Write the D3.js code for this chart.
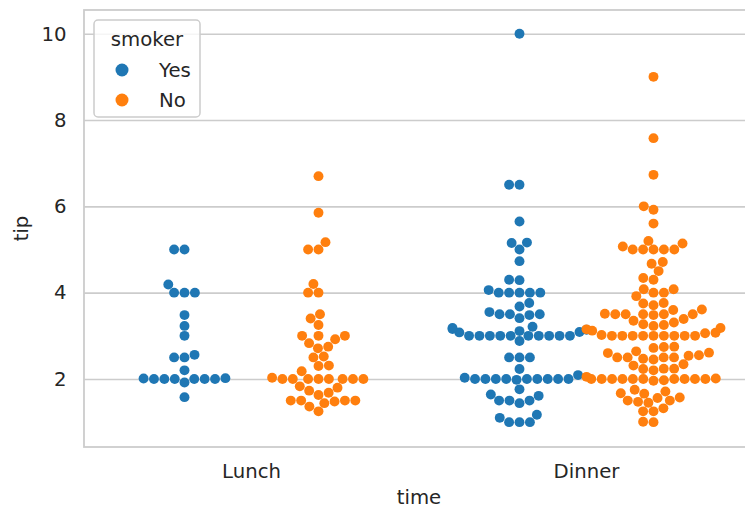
<!DOCTYPE html>
<html>
<head>
<meta charset="utf-8">
<script src="https://cdn.jsdelivr.net/npm/d3@7"></script>
<style>
  html, body { margin: 0; padding: 0; background: #ffffff; }
  svg { display: block; }
  text { font-family: "DejaVu Sans", sans-serif; }
</style>
</head>
<body>
<svg id="chart" width="745" height="509"></svg>
<script>
// ---- data (seaborn "tips": tip by time, split by smoker) ----
const categories = ["Lunch", "Dinner"];
const smokers = ["Yes", "No"];
const yTicks = [2, 4, 6, 8, 10];

const lunchYes = [3.0, 5.0, 2.0, 4.19, 2.56, 2.02, 4.0, 2.0, 5.0, 2.0, 2.0, 4.0, 2.01, 2.0, 2.5, 4.0, 3.23,
  2.2, 3.48, 1.92, 1.58, 2.5, 2.0];
const lunchNo = [4.0, 3.0, 2.71, 3.4, 1.83, 2.03, 5.17, 2.0, 4.0, 5.85, 3.0,
  1.5, 1.8, 2.92, 2.31, 1.68, 2.5, 2.0, 2.52, 4.2, 1.48, 2.0, 2.0, 2.18, 1.5, 2.83, 1.5, 2.0, 3.25, 1.25,
  2.0, 2.0, 2.75, 3.5, 6.7, 5.0, 5.0, 2.3, 1.5, 1.36, 1.63, 1.73, 2.0, 1.44, 3.0];
const dinnerYes = [3.0, 1.76, 3.21, 2.0, 1.98, 3.76, 1.0, 2.09, 3.14, 5.0, 3.08,
  3.0, 1.0, 4.3, 4.73, 4.0, 1.5, 3.0, 2.5, 3.0,
  2.5, 3.48, 1.64, 4.06, 4.29, 4.0,
  3.0, 1.61, 2.0, 10.0, 3.16, 5.15, 3.18, 4.0, 3.11, 2.0, 2.0, 4.0, 3.55, 3.68, 5.65, 3.5, 6.5, 3.0,
  3.5, 2.0, 3.5, 4.0, 1.5,
  3.41, 3.0, 2.03, 2.23, 2.0, 5.16, 2.5, 6.5, 1.1, 3.0, 1.5, 1.44, 3.09,
  2.88, 2.0, 3.0, 3.0, 1.0, 1.17, 2.0, 2.0];
const dinnerNo = [1.01, 1.66, 3.5, 3.31, 3.61, 4.71, 2.0, 3.12, 1.96, 3.23, 1.71, 5.0, 1.57, 3.0, 3.02,
  3.92, 1.67, 3.71, 3.5, 3.35, 4.08, 2.75, 2.23, 7.58, 3.18, 2.34, 2.0, 2.0, 4.3, 3.0, 1.45, 2.5, 3.0,
  2.45, 3.27, 3.6, 2.0, 3.07, 2.31, 5.0, 2.24, 2.54, 3.06, 1.32, 5.6, 3.0, 5.0, 6.0, 2.05, 3.0, 2.5,
  2.6, 5.2, 1.56, 4.34, 3.51,
  1.5, 6.73, 2.64, 3.15, 2.47, 2.01, 1.97, 3.0, 2.2, 1.25,
  3.5, 3.25, 1.5, 4.08, 3.76, 3.0, 1.0, 4.0, 2.55, 4.0, 3.5, 5.07,
  2.5, 2.0, 2.74, 2.0, 2.0, 5.14, 5.0, 3.75, 2.61, 2.0, 3.5, 2.5, 2.0, 2.0,
  3.48, 2.24, 4.5, 5.0,
  9.0, 3.0, 2.72, 3.39, 1.47, 1.25, 4.67, 5.92, 1.75, 3.0];

const groups = [
  { time: "Lunch", smoker: "Yes", values: lunchYes },
  { time: "Lunch", smoker: "No", values: lunchNo },
  { time: "Dinner", smoker: "Yes", values: dinnerYes },
  { time: "Dinner", smoker: "No", values: dinnerNo }
];

// ---- layout ----
const plot = { left: 84, right: 754, top: 10, bottom: 447 };
const colors = d3.scaleOrdinal().domain(smokers).range(["#1f77b4", "#ff7f0e"]);
const fontPx = 19.7;
const R = 4.95;

const svg = d3.select("#chart");

const x = d3.scaleBand().domain(categories).range([plot.left, plot.right]).padding(0);
const hue = d3.scaleBand().domain(smokers).range([-0.4, 0.4]); // fraction of band
const y = d3.scaleLinear().domain([0.4245, 10.549]).range([plot.bottom, plot.top]);

svg.append("defs").append("clipPath").attr("id", "clip")
  .append("rect").attr("x", plot.left).attr("y", plot.top)
  .attr("width", plot.right - plot.left).attr("height", plot.bottom - plot.top);

// grid lines
const gridG = svg.append("g").attr("transform", `translate(${plot.left},0)`)
  .call(d3.axisLeft(y).tickValues(yTicks).tickSize(-(plot.right - plot.left)).tickFormat(""));
gridG.select(".domain").remove();
gridG.selectAll(".tick line").attr("stroke", "#cccccc").attr("stroke-width", 1.6);

// spines
svg.append("rect").attr("x", plot.left).attr("y", plot.top)
  .attr("width", plot.right - plot.left).attr("height", plot.bottom - plot.top)
  .attr("fill", "none").attr("stroke", "#cccccc").attr("stroke-width", 1.8);

// y tick labels
const yAxis = svg.append("g").attr("transform", `translate(${plot.left},0)`)
  .call(d3.axisLeft(y).tickValues(yTicks).tickSize(0).tickPadding(17.5).tickFormat(d3.format("d")));
yAxis.select(".domain").remove();
yAxis.selectAll("text").attr("font-size", fontPx).attr("fill", "#262626")
  .attr("font-family", "DejaVu Sans");

// x tick labels
const xAxis = svg.append("g").attr("transform", `translate(0,${plot.bottom})`)
  .call(d3.axisBottom(x).tickSize(0).tickPadding(17));
xAxis.select(".domain").remove();
xAxis.selectAll("text").attr("font-size", fontPx).attr("fill", "#262626")
  .attr("font-family", "DejaVu Sans");

// axis titles
svg.append("text").attr("x", (plot.left + plot.right) / 2).attr("y", 504)
  .attr("text-anchor", "middle").attr("font-size", fontPx).attr("fill", "#262626").text("time");
svg.append("text").attr("transform", `translate(28,${(plot.top + plot.bottom) / 2}) rotate(-90)`)
  .attr("text-anchor", "middle").attr("font-size", fontPx).attr("fill", "#262626").text("tip");

// ---- numpy-style (introsort) argsort, to reproduce seaborn's tie ordering ----
function npArgsort(v) {
  const n = v.length;
  const ts = Array.from({ length: n }, (_, i) => i);
  if (n <= 1) return ts;
  const SMALL = 16;
  const swap = (a, b) => { const t = ts[a]; ts[a] = ts[b]; ts[b] = t; };
  const stack = [];
  let pl = 0, pr = n - 1;
  for (;;) {
    while (pr - pl > SMALL) {
      const pm = pl + ((pr - pl) >> 1);
      if (v[ts[pm]] < v[ts[pl]]) swap(pm, pl);
      if (v[ts[pr]] < v[ts[pm]]) swap(pr, pm);
      if (v[ts[pm]] < v[ts[pl]]) swap(pm, pl);
      const vp = v[ts[pm]];
      let pi = pl, pj = pr - 1;
      swap(pm, pj);
      for (;;) {
        do { ++pi; } while (v[ts[pi]] < vp);
        do { --pj; } while (vp < v[ts[pj]]);
        if (pi >= pj) break;
        swap(pi, pj);
      }
      swap(pi, pr - 1);
      if (pi - pl < pr - pi) { stack.push([pi + 1, pr]); pr = pi - 1; }
      else { stack.push([pl, pi - 1]); pl = pi + 1; }
    }
    for (let pi = pl + 1; pi <= pr; ++pi) {
      const vi = ts[pi], vv = v[vi];
      let pj = pi, pk = pi - 1;
      while (pj > pl && vv < v[ts[pk]]) { ts[pj--] = ts[pk--]; }
      ts[pj] = vi;
    }
    if (stack.length === 0) break;
    [pl, pr] = stack.pop();
  }
  return ts;
}

// ---- beeswarm (seaborn-style) ----
function swarm(values, center, r, halfWidth) {
  const sorter = npArgsort(values);
  const pts = sorter.map(i => ({ v: values[i], up: (y(0) - y(values[i])) }));
  const d = 2 * r;
  const placed = [];
  pts.forEach((p, k) => {
    if (k === 0) { p.x = center; placed.push(p); return; }
    const nb = [];
    for (let j = placed.length - 1; j >= 0; j--) {
      const q = placed[j];
      if (p.up - q.up < d) nb.push(q); else break;
    }
    nb.reverse();
    if (nb.length === 0) { p.x = center; placed.push(p); return; }
    const cands = [center];
    let leftFirst = true;
    nb.forEach(q => {
      const dy = p.up - q.up;
      const dx = Math.sqrt(Math.max(d * d - dy * dy, 0)) * 1.05;
      if (leftFirst) cands.push(q.x - dx, q.x + dx); else cands.push(q.x + dx, q.x - dx);
      leftFirst = !leftFirst;
    });
    const offs = cands.map(c => Math.abs(c - center));
    const ord = npArgsort(offs);
    let chosen = cands[ord[ord.length - 1]];
    for (const oi of ord) {
      const c = cands[oi];
      const ok = nb.every(q => ((q.x - c) ** 2 + (q.up - p.up) ** 2) >= d * d);
      if (ok) { chosen = c; break; }
    }
    p.x = chosen;
    placed.push(p);
  });
  pts.forEach(p => { p.x = Math.max(center - halfWidth, Math.min(center + halfWidth, p.x)); });
  return pts;
}

const pointsG = svg.append("g").attr("clip-path", "url(#clip)");
groups.forEach(g => {
  const bw = x.bandwidth();
  const center = x(g.time) + bw / 2 + (hue(g.smoker) + hue.bandwidth() / 2) * bw;
  const half = hue.bandwidth() * bw / 2;
  const pts = swarm(g.values, center, R, half);
  pointsG.selectAll(null).data(pts).enter().append("circle")
    .attr("cx", p => p.x).attr("cy", p => y(p.v)).attr("r", R)
    .attr("fill", colors(g.smoker));
});

// ---- legend ----
const lg = svg.append("g");
lg.append("rect").attr("x", 94).attr("y", 20).attr("width", 106).attr("height", 97)
  .attr("rx", 4).attr("fill", "#ffffff").attr("fill-opacity", 0.8)
  .attr("stroke", "#cccccc").attr("stroke-width", 1.5);
lg.append("text").attr("x", 147).attr("y", 46).attr("text-anchor", "middle")
  .attr("font-size", fontPx).attr("fill", "#262626").text("smoker");
smokers.forEach((s, i) => {
  const cy = 70 + i * 30;
  lg.append("circle").attr("cx", 122).attr("cy", cy).attr("r", 6.5).attr("fill", colors(s));
  lg.append("text").attr("x", 159).attr("y", cy + 6.5).attr("font-size", fontPx)
    .attr("fill", "#262626").text(s);
});
</script>
</body>
</html>
